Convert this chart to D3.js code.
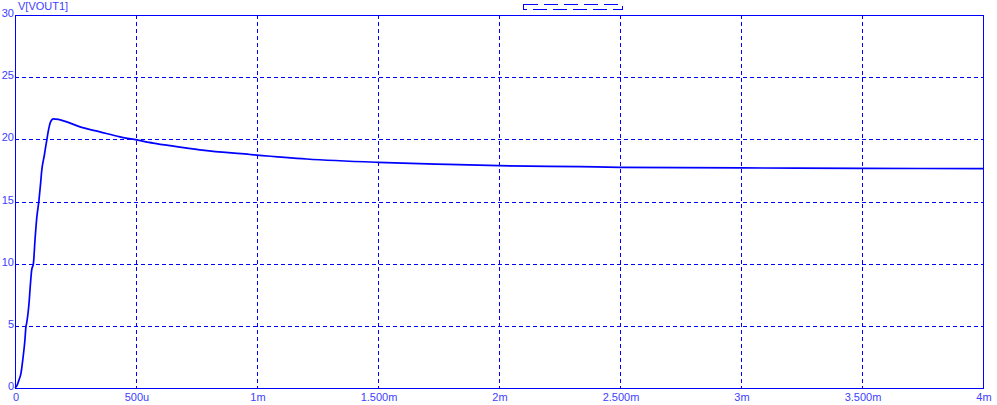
<!DOCTYPE html>
<html><head><meta charset="utf-8">
<script src="https://cdn.jsdelivr.net/npm/d3@7"></script>
<style>html,body{margin:0;padding:0;background:#fff;}svg{display:block;}</style>
</head><body>
<svg id="c" width="997" height="405"></svg>
<script>
// time in microseconds
const timeUs = [0, 8, 16.5, 24.8, 32, 41, 45, 48, 59, 62, 69, 76, 83, 90, 99, 106, 110, 121, 131, 140, 147, 158, 179, 214, 269, 351, 434, 503, 571, 654, 764, 971, 1205, 1500, 1789, 2000, 2335, 2500, 3000, 3500, 4000];
const vout = [0, 0.2, 0.64, 1.2, 2.25, 3.86, 4.9, 5.2, 7.08, 7.9, 9.5, 10.0, 12.0, 13.7, 15.1, 16.5, 17.4, 18.7, 19.9, 20.9, 21.4, 21.65, 21.6, 21.4, 21.0, 20.6, 20.2, 19.95, 19.7, 19.45, 19.15, 18.78, 18.42, 18.15, 17.98, 17.88, 17.8, 17.75, 17.7, 17.67, 17.64];
const xTicks = [0, 500, 1000, 1500, 2000, 2500, 3000, 3500, 4000];
const xTickLabels = ["0", "500u", "1m", "1.500m", "2m", "2.500m", "3m", "3.500m", "4m"];
const yTicks = [0, 5, 10, 15, 20, 25, 30];
const yTickLabels = ["0", "5", "10", "15", "20", "25", "30"];
const seriesName = "V[VOUT1]";

const svg = d3.select("#c");
const L = 15, R = 983, T = 15, B = 388;
const x = d3.scaleLinear().domain([0, 4000]).range([L, R]);
const y = d3.scaleLinear().domain([0, 30]).range([B, T]);
const blue = "#0000ff";
const txt = "#4040ff";
const font = "'Liberation Sans', Arial, sans-serif";

// grid
const g = svg.append("g").attr("shape-rendering", "crispEdges");
g.selectAll("line.vg").data(xTicks.slice(1, -1)).enter().append("line")
  .attr("x1", d => Math.round(x(d)) + 0.5).attr("x2", d => Math.round(x(d)) + 0.5)
  .attr("y1", T).attr("y2", B)
  .attr("stroke", blue).attr("stroke-width", 1).attr("stroke-dasharray", "4,3");
g.selectAll("line.hg").data(yTicks.slice(1, -1)).enter().append("line")
  .attr("y1", d => Math.round(y(d)) + 0.5).attr("y2", d => Math.round(y(d)) + 0.5)
  .attr("x1", L).attr("x2", R)
  .attr("stroke", blue).attr("stroke-width", 1).attr("stroke-dasharray", "4,3");

// top ticks
g.selectAll("line.tt").data(xTicks.slice(1, -1)).enter().append("line")
  .attr("x1", d => Math.round(x(d)) + 0.5).attr("x2", d => Math.round(x(d)) + 0.5)
  .attr("y1", T).attr("y2", T + 4).attr("stroke", blue);

// frame
g.append("rect").attr("x", L + 0.5).attr("y", T + 0.5).attr("width", R - L).attr("height", B - T)
  .attr("fill", "none").attr("stroke", blue).attr("stroke-width", 1);

// curve
const line = d3.line().x((d, i) => x(timeUs[i])).y(d => y(d)).curve(d3.curveMonotoneX);
svg.append("path").datum(vout).attr("d", line)
  .attr("fill", "none").attr("stroke", blue).attr("stroke-width", 1.7).attr("stroke-linejoin", "round");

// y labels
svg.selectAll("text.yl").data(yTicks).enter().append("text")
  .attr("x", 14).attr("y", d => y(d) + 2)
  .attr("text-anchor", "end").attr("font-family", font).attr("font-size", 11).attr("fill", txt)
  .text((d, i) => yTickLabels[i]);

// x labels
svg.selectAll("text.xl").data(xTicks).enter().append("text")
  .attr("x", d => x(d) + 1).attr("y", 401)
  .attr("text-anchor", "middle").attr("font-family", font).attr("font-size", 11).attr("fill", txt)
  .text((d, i) => xTickLabels[i]);

// title
svg.append("text").attr("x", 18).attr("y", 10).attr("font-family", font).attr("font-size", 11)
  .attr("fill", txt).text(seriesName);

// legend glyph
svg.append("rect").attr("x", 523.5).attr("y", 4.5).attr("width", 99).attr("height", 5)
  .attr("fill", "none").attr("stroke", blue).attr("stroke-width", 1).attr("stroke-dasharray", "14,6")
  .attr("shape-rendering", "crispEdges");
</script>
</body></html>
